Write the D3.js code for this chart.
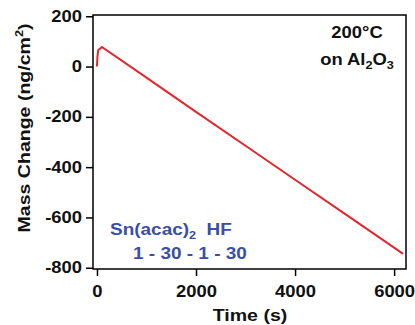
<!DOCTYPE html>
<html>
<head>
<meta charset="utf-8">
<script src="https://cdn.jsdelivr.net/npm/d3@7"></script>
<style>
  body { margin: 0; background: #fff; }
  text { font-family: "Liberation Sans", Arial, sans-serif; font-weight: bold; }
</style>
</head>
<body>
<svg></svg>
<script>
// time (s) and mass change (ng/cm2)
var times = [0, 10, 25, 100, 1000, 2000, 3000, 4000, 5000, 6000, 6180];
var masses = [0, 40, 65, 78, -44, -180, -315, -450, -585, -720, -745];

var xTicks = [0, 2000, 4000, 6000];
var yTicks = [200, 0, -200, -400, -600, -800];

var screen = { width: 415, height: 325 };
var frame = { left: 93, right: 406, top: 15, bottom: 269 };
var stretch = 1.15;

var svg = d3.select("svg").attr("width", screen.width).attr("height", screen.height);

var timeScale = d3.scaleLinear().domain([-80, 6240]).range([frame.left, frame.right]);
var massScale = d3.scaleLinear().domain([-805, 205]).range([frame.bottom, frame.top]);

var makeTranslateString = function (x, y) {
  return "translate(" + x + "," + y + ")";
};

// plain numbers with a hyphen minus, like the original
var plain = function (d) { return String(d); };

// axes
var xAxis = d3.axisBottom(timeScale).tickValues(xTicks).tickFormat(plain)
  .tickSize(7).tickSizeOuter(0).tickPadding(10);
var yAxis = d3.axisLeft(massScale).tickValues(yTicks).tickFormat(plain)
  .tickSize(7).tickSizeOuter(0).tickPadding(4);

var gx = svg.append("g")
  .attr("transform", makeTranslateString(0, frame.bottom))
  .call(xAxis);
var gy = svg.append("g")
  .attr("transform", makeTranslateString(frame.left, 0))
  .call(yAxis);

[gx, gy].forEach(function (g) {
  g.select(".domain").remove();
  g.selectAll("line").attr("stroke", "#000").attr("stroke-width", 1.5);
  g.selectAll("text")
    .attr("fill", "#111")
    .style("font-size", "16px")
    .style("font-family", "Liberation Sans, Arial, sans-serif")
    .style("font-weight", "bold");
});
gy.selectAll("text").attr("x", -11 / stretch).attr("transform", "scale(" + stretch + ",1)");
gx.selectAll("text").attr("transform", "scale(" + stretch + ",1)");

// frame
svg.append("rect")
  .attr("x", frame.left)
  .attr("y", frame.top)
  .attr("width", frame.right - frame.left)
  .attr("height", frame.bottom - frame.top)
  .attr("fill", "none")
  .attr("stroke", "#000")
  .attr("stroke-width", 1.5);

// data line
var points = times.map(function (t, i) { return [t, masses[i]]; });
var line = d3.line()
  .x(function (d) { return timeScale(d[0]); })
  .y(function (d) { return massScale(d[1]); });

svg.append("path")
  .datum(points)
  .attr("d", line)
  .attr("fill", "none")
  .attr("stroke", "#e3262d")
  .attr("stroke-width", 2);

// labels
var addText = function (x, y, anchor, color, size, rotate) {
  var g = svg.append("g").attr("transform", makeTranslateString(x, y) + (rotate ? " rotate(-90)" : "") + " scale(" + stretch + ",1)");
  return g.append("text")
    .attr("text-anchor", anchor)
    .attr("fill", color)
    .style("font-size", size + "px");
};

addText(250, 321, "middle", "#111", 17, false).text("Time (s)");

var yLabel = addText(30, 128, "middle", "#111", 17, true);
yLabel.append("tspan").text("Mass Change (ng/cm");
yLabel.append("tspan").attr("dy", -7).style("font-size", "11px").text("2");
yLabel.append("tspan").attr("dy", 7).text(")");

addText(357, 38, "middle", "#111", 16, false).text("200°C");
var sub = addText(357, 65, "middle", "#111", 16, false);
sub.append("tspan").text("on Al");
sub.append("tspan").attr("dy", 4).style("font-size", "11px").text("2");
sub.append("tspan").attr("dy", -4).text("O");
sub.append("tspan").attr("dy", 4).style("font-size", "11px").text("3");

var blue = "#3a4ea6";
var sn = addText(110, 235, "start", blue, 16.5, false);
sn.append("tspan").text("Sn(acac)");
sn.append("tspan").attr("dy", 4).style("font-size", "11px").text("2");
sn.append("tspan").attr("dy", -4).text("  HF");
sn.attr("xml:space", "preserve");

addText(133, 259, "start", blue, 16.5, false).text("1 - 30 - 1 - 30");
</script>
</body>
</html>
